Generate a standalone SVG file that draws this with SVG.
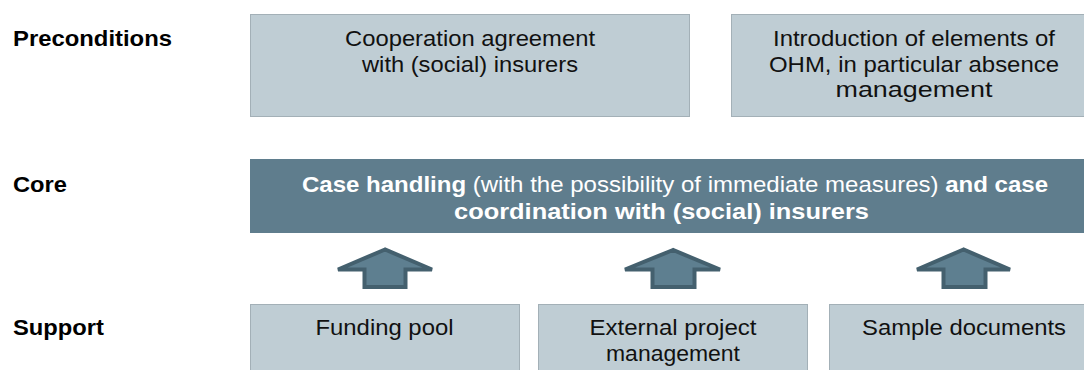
<svg xmlns="http://www.w3.org/2000/svg" width="1084" height="370" viewBox="0 0 1084 370">
<style>
.lbl{font-family:"Liberation Sans",Arial,sans-serif;font-weight:bold;font-size:22px;fill:#000}
.box{fill:#bfcdd4;stroke:#a3b0b7;stroke-width:1}
.core{fill:#5f7d8d}
.t{font-family:"Liberation Sans",Arial,sans-serif;font-size:22px;fill:#111;text-anchor:middle}
.ct{font-family:"Liberation Sans",Arial,sans-serif;font-size:22px;fill:#fff;text-anchor:middle}
.b{font-weight:bold}
.arrow{fill:#5e7f90;stroke:#44606e;stroke-width:4;stroke-linejoin:miter}
</style>
<rect width="1084" height="370" fill="#fff"/>
<g id="label-preconditions"><text class="lbl" x="13" y="46" textLength="159" lengthAdjust="spacingAndGlyphs">Preconditions</text></g>
<g id="label-core"><text class="lbl" x="13" y="192" textLength="54" lengthAdjust="spacingAndGlyphs">Core</text></g>
<g id="label-support"><text class="lbl" x="13" y="335" textLength="91" lengthAdjust="spacingAndGlyphs">Support</text></g>

<g id="pre-cooperation">
<rect class="box" x="250.5" y="14.5" width="439" height="102"/>
<text class="t" x="470" y="46" textLength="250" lengthAdjust="spacingAndGlyphs">Cooperation agreement</text>
<text class="t" x="470" y="71.5" textLength="216" lengthAdjust="spacingAndGlyphs">with (social) insurers</text>
</g>
<g id="pre-ohm">
<rect class="box" x="731.5" y="14.5" width="366" height="102"/>
<text class="t" x="914" y="46" textLength="282" lengthAdjust="spacingAndGlyphs">Introduction of elements of</text>
<text class="t" x="914" y="71.5" textLength="290" lengthAdjust="spacingAndGlyphs">OHM, in particular absence</text>
<text class="t" x="914" y="97" textLength="157" lengthAdjust="spacingAndGlyphs">management</text>
</g>
<g id="core-case">
<rect class="core" x="250" y="159" width="850" height="74"/>
<text class="ct" x="675" y="192" textLength="746" lengthAdjust="spacingAndGlyphs"><tspan class="b">Case handling</tspan> (with the possibility of immediate measures) <tspan class="b">and case</tspan></text>
<text class="ct b" x="661.5" y="219" textLength="415" lengthAdjust="spacingAndGlyphs">coordination with (social) insurers</text>
</g>

<g id="connectors">
<polygon class="arrow" points="385,249.5 338,269.5 364.5,269.5 364.5,287 405.5,287 405.5,269.5 432,269.5"/>
<polygon class="arrow" points="673,250 625,269.5 652.5,269.5 652.5,287 694.5,287 694.5,269.5 720,269.5"/>
<polygon class="arrow" points="963.5,249.5 917,269.5 943.5,269.5 943.5,287 985.5,287 985.5,269.5 1010,269.5"/>
</g>

<g id="sup-funding">
<rect class="box" x="250.5" y="304.5" width="269" height="70"/>
<text class="t" x="384.5" y="335" textLength="138" lengthAdjust="spacingAndGlyphs">Funding pool</text>
</g>
<g id="sup-external">
<rect class="box" x="538.5" y="304.5" width="269" height="70"/>
<text class="t" x="673" y="335" textLength="167" lengthAdjust="spacingAndGlyphs">External project</text>
<text class="t" x="673" y="361" textLength="134" lengthAdjust="spacingAndGlyphs">management</text>
</g>
<g id="sup-sample">
<rect class="box" x="829.5" y="304.5" width="269" height="70"/>
<text class="t" x="964" y="335" textLength="204" lengthAdjust="spacingAndGlyphs">Sample documents</text>
</g>
</svg>
